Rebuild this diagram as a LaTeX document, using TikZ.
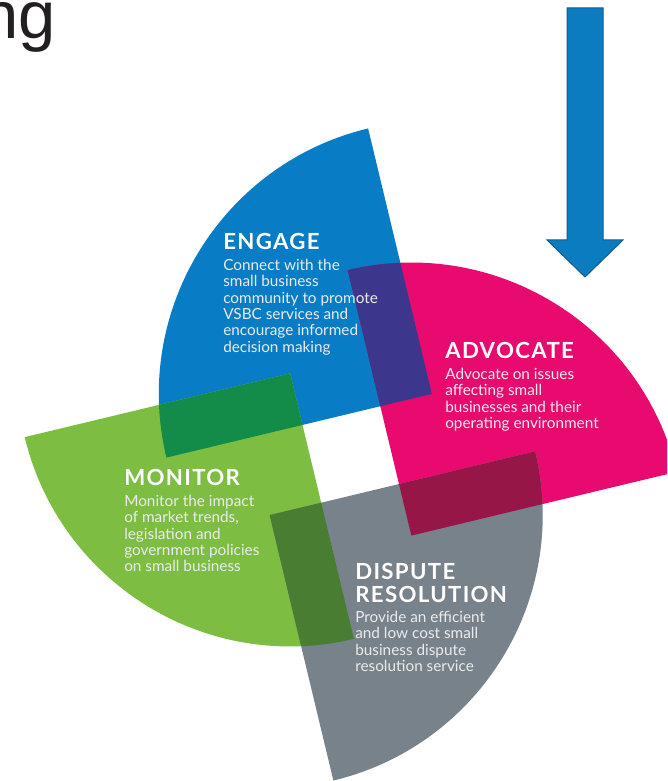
\documentclass[tikz,border=0pt]{standalone}
\usepackage{fontspec}
\setmainfont{Lato}
\newfontfamily\slidefont{Liberation Sans}
\newfontfamily\headfont[LetterSpace=6]{Lato Bold}
\usepackage{tikz}

\definecolor{engageblue}{RGB}{8,124,197}
\definecolor{advocatepink}{RGB}{232,10,110}
\definecolor{monitorgreen}{RGB}{125,190,66}
\definecolor{disputegray}{RGB}{120,130,138}
\definecolor{bluepink}{RGB}{60,55,140}
\definecolor{bluegreen}{RGB}{18,140,72}
\definecolor{greengray}{RGB}{72,125,50}
\definecolor{graypink}{RGB}{150,22,72}
\definecolor{arrowblue}{RGB}{12,124,193}
\definecolor{arrowedge}{RGB}{22,90,140}

\begin{document}
\begin{tikzpicture}[x=0.025cm,y=0.025cm,
  headline/.style={anchor=north west,inner sep=0pt,text=white,align=left,
    font=\fontsize{15.8}{16.4}\headfont},
  blurb/.style={anchor=north west,inner sep=0pt,text=white!92!black,align=left,
    font=\fontsize{10.9}{11.6}\selectfont},
  engage/.style={insert path={(93,40) -- ++(90:273) arc[start angle=90,end angle=180,radius=273] -- cycle}},
  monitor/.style={insert path={(-40,93) -- ++(180:273) arc[start angle=180,end angle=270,radius=273] -- cycle}},
  dispute/.style={insert path={(-93,-40) -- ++(270:273) arc[start angle=270,end angle=360,radius=273] -- cycle}},
  advocate/.style={insert path={(40,-93) -- ++(0:273) arc[start angle=0,end angle=90,radius=273] -- cycle}}]

  \path[use as bounding box] (0,0) rectangle (667,781);
  \clip (0,0) rectangle (667,781);

  \node[anchor=base east,inner sep=0pt,text={rgb,255:red,35;green,31;blue,32},
    font=\fontsize{47.6}{50}\slidefont] (heading) at (56,742) {ng};

  % the four quarter discs
  \begin{scope}[shift={(350.75,326.5)},rotate=13.5]
    \fill[engageblue, engage];
    \fill[advocatepink, advocate];
    \fill[monitorgreen, monitor];
    \fill[disputegray, dispute];

    % overlaps
    \begin{scope}
      \clip[engage];
      \fill[bluepink, advocate];
      \fill[bluegreen, monitor];
    \end{scope}
    \begin{scope}
      \clip[dispute];
      \fill[greengray, monitor];
      \fill[graypink, advocate];
    \end{scope}
  \end{scope}

  \node[headline] (engagetitle) at (223,548) {ENGAGE};
  \node[blurb] (engagetext) at (223,522) {Connect with the\\small business\\community to promote\\VSBC services and\\encourage informed\\decision making};

  \node[headline] (advocatetitle) at (445,439) {ADVOCATE};
  \node[blurb] (advocatetext) at (445,413) {Advocate on issues\\affecting small\\businesses and their\\operating environment};

  \node[headline] (monitortitle) at (124,312) {MONITOR};
  \node[blurb] (monitortext) at (124,286) {Monitor the impact\\of market trends,\\legislation and\\government policies\\on small business};

  \node[headline] (disputetitle) at (355,218) {DISPUTE\\RESOLUTION};
  \node[blurb] (disputetext) at (355,170) {Provide an efficient\\and low cost small\\business dispute\\resolution service};

  % block arrow
  \fill[arrowblue, draw=arrowedge, line width=0.7pt, line join=miter]
    (567,773) -- (603,773) -- (603,541) -- (623,541) -- (585,504)
    -- (547,541) -- (567,541) -- cycle;

\end{tikzpicture}
\end{document}
